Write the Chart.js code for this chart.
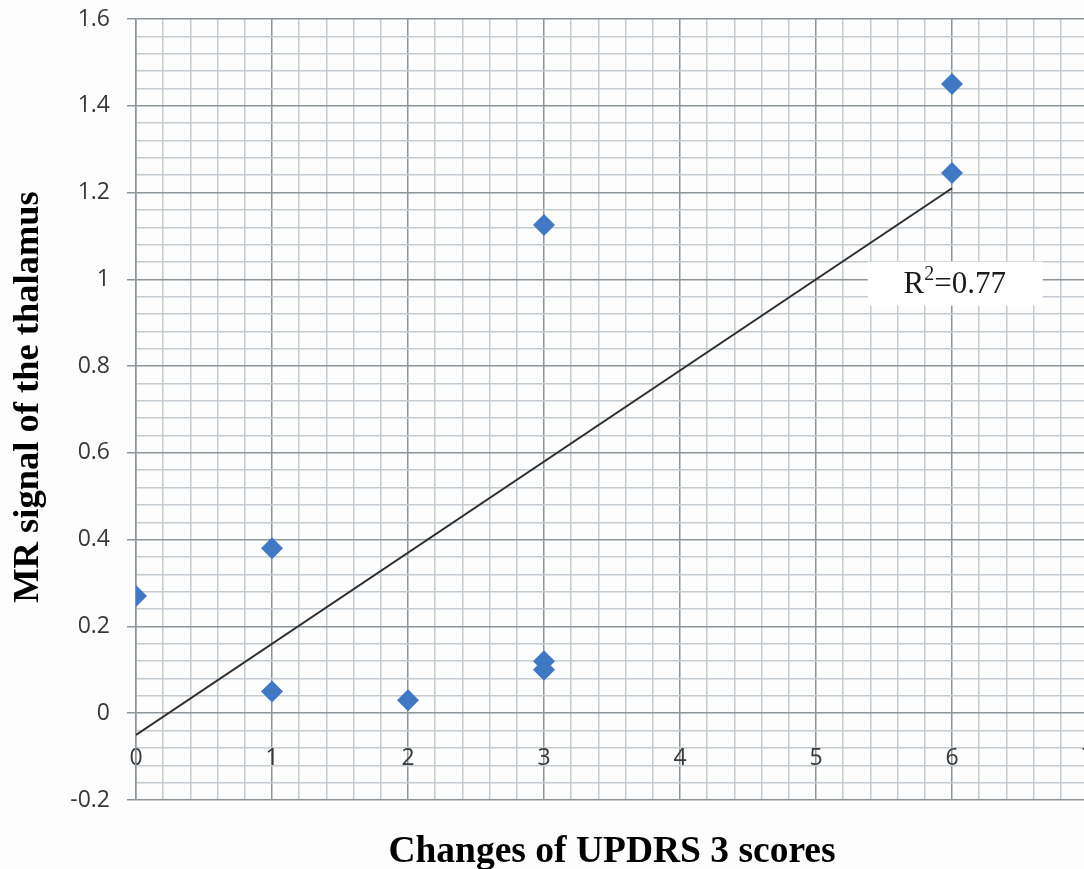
<!doctype html>
<html lang="en">

<head>
    <meta charset="utf-8">
    <title>MR signal vs UPDRS 3</title>
    <style>
        * {
            margin: 0;
            padding: 0;
        }

        body {
            width: 1084px;
            height: 869px;
            overflow: hidden;
            background: #fdfdfe;
        }

        .chartBox {
            width: 1100px;
            height: 869px;
        }
    </style>
</head>

<body>
    <div class="chartBox">
        <canvas id="myChart"></canvas>
    </div>

    <script src="https://cdn.jsdelivr.net/npm/chart.js"></script>

    <script>
        // values
        const updrsChange = [0, 1, 1, 2, 3, 3, 3, 6, 6]
        const mrSignal = [0.27, 0.38, 0.05, 0.03, 1.125, 0.12, 0.10, 1.45, 1.245]

        // fitted line end points (as drawn)
        const trendX = [0, 6]
        const trendY = [-0.05, 1.21]

        const xTickLabels = ['0', '1', '2', '3', '4', '5', '6', '7']
        const yTickLabels = ['-0.2', '0', '0.2', '0.4', '0.6', '0.8', '1', '1.2', '1.4', '1.6']

        const rSquared = '0.77'

        const isMajor = (v, per) => Math.abs(v * per - Math.round(v * per)) < 1e-6
        const minorColor = '#c3cbd0'
        const majorColor = '#8b9498'

        // extra text: axis titles and R² box
        const extraText = {
            id: 'extraText',
            afterDatasetsDraw(chart) {
                const { ctx, chartArea, scales } = chart
                ctx.save()
                // R^2 label
                const cx = scales.x.getPixelForValue(6.02)
                const cy = scales.y.getPixelForValue(0.99)
                ctx.fillStyle = '#ffffff'
                ctx.fillRect(cx - 87, cy - 22, 175, 44)
                ctx.fillStyle = '#1a1a1a'
                ctx.textBaseline = 'middle'
                const p1 = 'R', p3 = '=' + rSquared
                ctx.font = '31px "Liberation Serif"'
                const w1 = ctx.measureText(p1).width
                const w3 = ctx.measureText(p3).width
                ctx.font = '20px "Liberation Serif"'
                const w2 = ctx.measureText('2').width
                let x0 = cx - (w1 + w2 + w3) / 2
                ctx.textAlign = 'left'
                ctx.font = '31px "Liberation Serif"'
                ctx.fillText(p1, x0, cy + 1)
                ctx.font = '20px "Liberation Serif"'
                ctx.fillText('2', x0 + w1, cy - 9)
                ctx.font = '31px "Liberation Serif"'
                ctx.fillText(p3, x0 + w1 + w2, cy + 1)

                // x axis title
                ctx.font = 'bold 37.5px "Liberation Serif"'
                ctx.textAlign = 'center'
                ctx.fillStyle = '#000000'
                ctx.fillText('Changes of UPDRS 3 scores', (chartArea.left + chartArea.right) / 2, 852)

                // y axis title
                ctx.translate(29, 397)
                ctx.rotate(-Math.PI / 2)
                ctx.font = 'bold 36.5px "Liberation Serif"'
                ctx.fillText('MR signal of the thalamus', 0, 0)
                ctx.restore()
            }
        }

        const data = {
            datasets: [{
                type: 'scatter',
                label: 'MR signal',
                data: updrsChange.map((x, i) => ({ x: x, y: mrSignal[i] })),
                pointStyle: 'rectRot',
                pointRadius: 11,
                pointHoverRadius: 11,
                backgroundColor: '#4078c4',
                borderColor: '#4078c4',
                borderWidth: 0,
                order: 1
            }, {
                type: 'line',
                label: 'trend',
                data: trendX.map((x, i) => ({ x: x, y: trendY[i] })),
                borderColor: '#2e2e2e',
                borderWidth: 2,
                pointRadius: 0,
                fill: false,
                order: 2
            }]
        };

        const config = {
            data: data,
            options: {
                responsive: true,
                maintainAspectRatio: false,
                animation: false,
                layout: {
                    padding: { top: 19, right: 12, bottom: 69, left: 0 }
                },
                plugins: {
                    legend: { display: false },
                    tooltip: { enabled: false }
                },
                scales: {
                    x: {
                        type: 'linear',
                        position: { y: 0 },
                        min: 0,
                        max: 7,
                        afterFit: (scale) => { scale.paddingLeft = 0; scale.paddingRight = 0 },
                        ticks: {
                            stepSize: 0.2,
                            autoSkip: false,
                            maxRotation: 0,
                            padding: 31,
                            color: '#383838',
                            font: { family: '"Open Sans"', size: 23 },
                            callback: (v) => isMajor(v, 1) ? xTickLabels[Math.round(v)] : ''
                        },
                        grid: {
                            drawTicks: false,
                            lineWidth: 1.5,
                            color: (c) => isMajor(c.tick.value, 1) ? majorColor : minorColor
                        },
                        border: { display: false }
                    },
                    y: {
                        min: -0.2,
                        max: 1.6,
                        afterFit: (scale) => { scale.width = 136; scale.paddingTop = 0; scale.paddingBottom = 0 },
                        ticks: {
                            stepSize: 0.04,
                            autoSkip: false,
                            padding: 17,
                            color: '#383838',
                            font: { family: '"Open Sans"', size: 23 },
                            callback: (v) => isMajor(v, 5) ? yTickLabels[Math.round((v + 0.2) * 5)] : ''
                        },
                        grid: {
                            lineWidth: 1.5,
                            tickLength: 9,
                            color: (c) => isMajor(c.tick.value, 5) ? majorColor : minorColor,
                            tickColor: (c) => isMajor(c.tick.value, 5) ? majorColor : 'rgba(0,0,0,0)'
                        },
                        border: { display: true, color: majorColor, width: 1.5 }
                    }
                }
            },
            plugins: [extraText]
        };

        const myChart = new Chart(
            document.getElementById('myChart'),
            config
        );
    </script>

</body>

</html>
